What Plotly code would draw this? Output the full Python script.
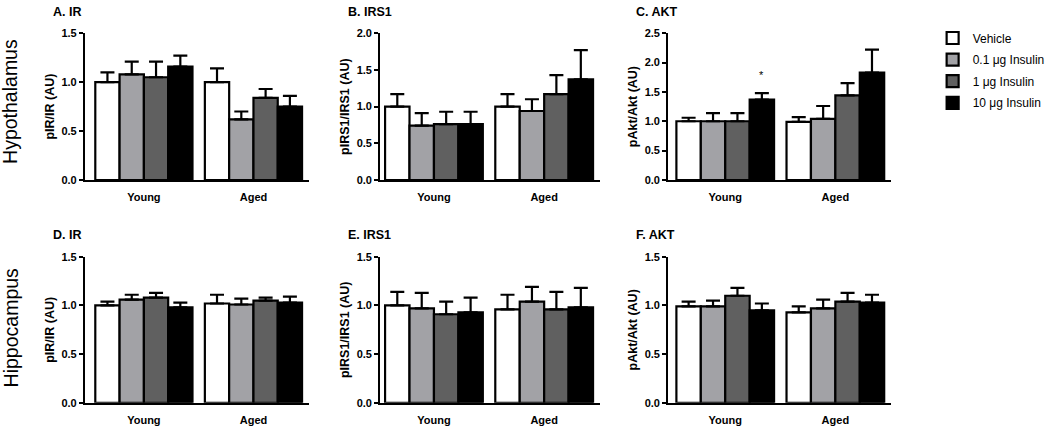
import plotly.graph_objects as go

W, H = 1050, 428

groups = ["Young", "Aged"]
series = ["Vehicle", "0.1 μg Insulin", "1 μg Insulin", "10 μg Insulin"]
colors = ["#ffffff", "#a2a2a6", "#606060", "#000000"]

# values per panel: list per series -> [Young, Aged]
A_mean = [[1.00, 1.00], [1.08, 0.62], [1.05, 0.84], [1.16, 0.75]]
A_err = [[0.10, 0.14], [0.13, 0.08], [0.16, 0.09], [0.11, 0.11]]
B_mean = [[1.00, 1.00], [0.74, 0.94], [0.76, 1.17], [0.76, 1.37]]
B_err = [[0.17, 0.17], [0.17, 0.16], [0.17, 0.26], [0.17, 0.40]]
C_mean = [[1.00, 0.99], [1.00, 1.04], [1.00, 1.44], [1.37, 1.83]]
C_err = [[0.06, 0.08], [0.14, 0.22], [0.14, 0.21], [0.11, 0.39]]
D_mean = [[1.00, 1.02], [1.06, 1.01], [1.08, 1.05], [0.98, 1.03]]
D_err = [[0.04, 0.09], [0.05, 0.06], [0.05, 0.03], [0.05, 0.06]]
E_mean = [[1.00, 0.96], [0.97, 1.04], [0.91, 0.96], [0.93, 0.98]]
E_err = [[0.14, 0.15], [0.16, 0.15], [0.13, 0.18], [0.15, 0.20]]
F_mean = [[0.99, 0.93], [0.99, 0.97], [1.10, 1.04], [0.95, 1.03]]
F_err = [[0.05, 0.06], [0.06, 0.09], [0.08, 0.09], [0.07, 0.08]]

titles = ["A. IR", "B. IRS1", "C. AKT", "D. IR", "E. IRS1", "F. AKT"]
ytitles = ["pIR/IR (AU)", "pIRS1/IRS1 (AU)", "pAkt/Akt (AU)",
           "pIR/IR (AU)", "pIRS1/IRS1 (AU)", "pAkt/Akt (AU)"]
ymax = [1.5, 2.0, 2.5, 1.5, 1.5, 1.5]
row_labels = ["Hypothalamus", "Hippocampus"]

panels = [(A_mean, A_err), (B_mean, B_err), (C_mean, C_err),
          (D_mean, D_err), (E_mean, E_err), (F_mean, F_err)]

# layout geometry (pixels)
col_px = [(87.3, 318.3), (391.5, 618.3), (688.3, 918.3)]
row_px = [(28, 179), (258, 408.3)]
xranges = [(-0.54, 1.506), (-0.49, 1.507), (-0.52, 1.507)]
BARGAP = 0.113

FONT = "Liberation Sans, Arial, sans-serif"

fig = go.Figure()
layout = dict(
    width=W, height=H, margin=dict(l=0, r=0, t=0, b=0),
    paper_bgcolor="white", plot_bgcolor="white",
    barmode="group", bargap=BARGAP, bargroupgap=0,
    font=dict(family=FONT, color="black"),
    showlegend=True,
    legend=dict(x=961 / W, y=1 - 18 / H, xanchor="left", yanchor="top",
                font=dict(family=FONT, size=12, color="black"),
                traceorder="grouped", tracegroupgap=2.6,
                itemwidth=30, borderwidth=0, bgcolor="rgba(0,0,0,0)"),
)
annotations = []

for p, (means, errs) in enumerate(panels):
    r, c = divmod(p, 3)
    idx = "" if p == 0 else str(p + 1)
    xa, ya = "x" + idx, "y" + idx
    for s in range(4):
        fig.add_trace(go.Bar(
            x=groups, y=means[s], name=series[s],
            xaxis=xa, yaxis=ya,
            marker=dict(color=colors[s], line=dict(color="black", width=2.2)),
            error_y=dict(type="data", symmetric=False, array=errs[s],
                         arrayminus=[0, 0], color="black", thickness=2.2,
                         width=7),
            legendgroup=series[s], showlegend=(p == 0),
        ))
    x0, x1 = col_px[c]
    yt, yb = row_px[r]
    layout["xaxis" + idx] = dict(
        domain=[x0 / W, x1 / W], anchor=ya, range=list(xranges[c]),
        showline=True, linecolor="black", linewidth=1.6, ticks="",
        showgrid=False, zeroline=False,
        tickfont=dict(family=FONT, size=11, color="black", weight="bold"),
        ticklabelstandoff=6,
    )
    layout["yaxis" + idx] = dict(
        domain=[1 - yb / H, 1 - yt / H], anchor=xa, range=[0, ymax[p]],
        dtick=0.5, tickformat=".1f", showline=True, linecolor="black",
        linewidth=1.6, ticks="outside", ticklen=4, tickwidth=1.6,
        tickcolor="black", showgrid=False, zeroline=False,
        tickfont=dict(family=FONT, size=11, color="black", weight="bold"),
        title=dict(text=ytitles[p], standoff=4,
                   font=dict(family=FONT, size=12.5, color="black",
                             weight="bold")),
    )
    annotations.append(dict(
        text="<b>" + titles[p] + "</b>", xref="paper", yref="paper",
        x=(x0 - 35) / W, y=1 - (yt - 22) / H, xanchor="left", yanchor="middle",
        showarrow=False, font=dict(family=FONT, size=12.5, color="black")))

# significance star above Young / 10 μg bar in panel C
grp_w = 1 - BARGAP
bar_w = grp_w / 4
star_x = 0 - grp_w / 2 + bar_w * 3.5
annotations.append(dict(
    text="*", xref="x3", yref="y3", x=star_x,
    y=C_mean[3][0] + C_err[3][0], yanchor="bottom", yshift=10,
    showarrow=False, font=dict(family=FONT, size=11, color="black")))

for i, lab in enumerate(row_labels):
    annotations.append(dict(
        text=lab, xref="paper", yref="paper", x=11 / W,
        y=1 - ((98 if i == 0 else 331)) / H, xanchor="center",
        yanchor="middle", textangle=-90, showarrow=False,
        font=dict(family=FONT, size=19.5, color="black")))

layout["annotations"] = annotations
fig.update_layout(**layout)
fig.write_html(
    "out.html",
    config={"displayModeBar": False},
    post_script="document.body.style.margin='0';"
                "document.body.style.overflow='hidden';",
)
